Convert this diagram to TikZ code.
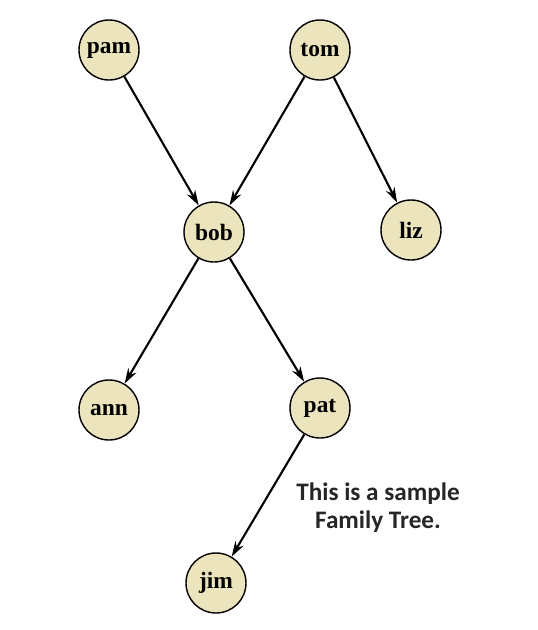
\documentclass[tikz,border=0pt]{standalone}
\usepackage{fontspec}
\setmainfont{Liberation Serif}
\newfontfamily\notefont{Carlito}
\usepackage{xcolor}
\usetikzlibrary{arrows, arrows.meta}
\usetikzlibrary{positioning}
\definecolor{nodefill}{RGB}{236,228,188}

\begin{document}
\begin{tikzpicture}[x=0.03cm, y=-0.03cm, every node/.style={circle, draw, line width=1.2pt, fill=nodefill, minimum size=1.8cm, inner sep=0pt, font=\fontsize{20}{24}\selectfont\bfseries}]
			\useasboundingbox (0,0) rectangle (538,630);
			\node(pam) at (109,50){pam};
			\node(tom) at (320,50){tom};
			\node(bob) at (214,232){bob};
			\node(liz) at (411,230){liz};
			\node(ann) at (109,410){ann};
			\node(pat) at (320,408){pat};
			\node(jim) at (216,583){jim};

			\foreach \iFrom/\iTo in {pam/bob, tom/bob, tom/liz, bob/ann, bob/pat, pat/jim}
			{
				\draw[-{Stealth[length=13pt, width=8pt]}, line width=1.8pt] (\iFrom) -- (\iTo);
			}
			\node[draw=none, fill=none, rectangle, align=center, inner sep=0pt, font=\notefont\fontsize{21.5}{24}\selectfont\bfseries, text=black!85] (note) at (378,508){This is a sample\\Family Tree.};
		\end{tikzpicture}
\end{document}
